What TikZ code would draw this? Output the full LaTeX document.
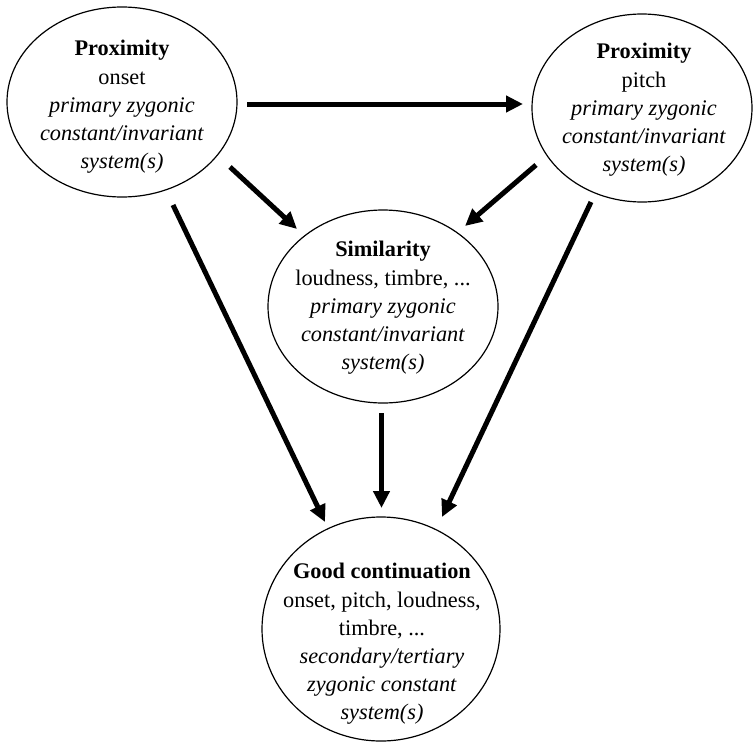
\documentclass[tikz,border=0pt]{standalone}
\usepackage{fontspec}
\setmainfont{Liberation Serif}
\usetikzlibrary{shapes.geometric,arrows.meta,calc}

\tikzset{
  gestalt/.style={ellipse, draw, line width=1.2pt, inner sep=0pt},
  caption/.style={inner sep=0pt, align=center, font=\fontsize{22.3}{28.2}\selectfont},
  flow/.style={line width=5pt, -{Triangle[length=17pt,width=16pt]}}
}

\begin{document}
\begin{tikzpicture}[x=1pt,y=-1pt]
  \useasboundingbox (0,0) rectangle (755,744);

  % principles
  \node[gestalt, minimum width=230pt, minimum height=190pt] (onset) at (122,102) {};
  \node[caption] (onsettext) at (122,107)
    {\textbf{Proximity}\\onset\\\textit{primary zygonic}\\\textit{constant/invariant}\\\textit{system(s)}};

  \node[gestalt, minimum width=220pt, minimum height=188pt] (pitch) at (642,108) {};
  \node[caption] (pitchtext) at (644,110)
    {\textbf{Proximity}\\pitch\\\textit{primary zygonic}\\\textit{constant/invariant}\\\textit{system(s)}};

  \node[gestalt, minimum width=230pt, minimum height=193pt] (sim) at (383,306.5) {};
  \node[caption] (simtext) at (383,308)
    {\textbf{Similarity}\\loudness, timbre, ...\\\textit{primary zygonic}\\\textit{constant/invariant}\\\textit{system(s)}};

  \node[gestalt, minimum width=238pt, minimum height=224pt] (good) at (381,629) {};
  \node[caption] (goodtext) at (382,644)
    {\textbf{Good continuation}\\onset, pitch, loudness,\\timbre, ...\\\textit{secondary/tertiary}\\\textit{zygonic constant}\\\textit{system(s)}};

  % influences
  \draw[flow] ($(onset.center)+(125,2)$) -- ($(pitch.center)+(-119,-4)$);
  \draw[flow] ($(onset.center)+(108,65)$) -- ($(sim.center)+(-86,-77.5)$);
  \draw[flow] ($(pitch.center)+(-106,57)$) -- ($(sim.center)+(82,-80.5)$);
  \draw[flow] ($(onset.center)+(51,103)$) -- ($(good.center)+(-56,-107)$);
  \draw[flow] ($(sim.center)+(-1.5,106.5)$) -- ($(good.center)+(0.5,-121)$);
  \draw[flow] ($(pitch.center)+(-51,94)$) -- ($(good.center)+(61,-112)$);
\end{tikzpicture}
\end{document}
